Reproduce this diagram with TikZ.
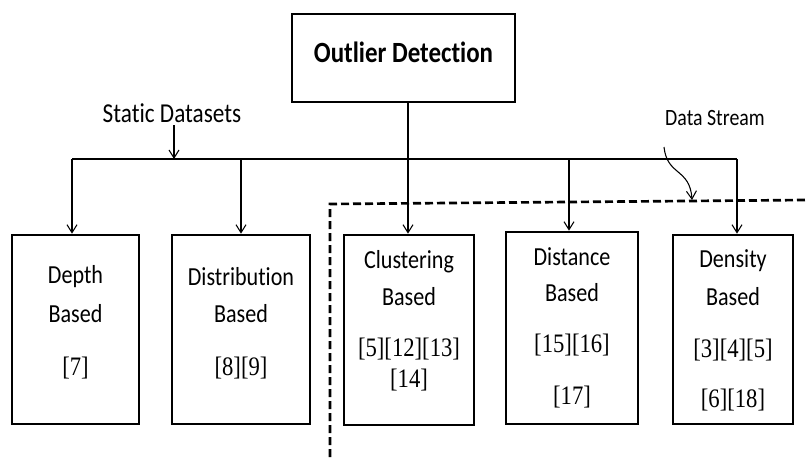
\documentclass[tikz,border=0pt]{standalone}
\usepackage{fontspec}
\setmainfont{Carlito}
\newfontfamily\labelfont[FakeStretch=0.85,RawFeature=-liga]{Carlito}
\newfontfamily\reffont[FakeStretch=0.85]{Liberation Serif}
\usetikzlibrary{arrows.meta}

\begin{document}
\begin{tikzpicture}[x=0.75pt,y=-0.75pt,
  box/.style={draw, line width=2pt, inner sep=0pt},
  lbl/.style={font=\labelfont\fontsize{19.5}{20}\selectfont, inner sep=0pt},
  small/.style={font=\labelfont\fontsize{17.5}{18}\selectfont, inner sep=0pt},
  title/.style={font=\labelfont\bfseries\fontsize{22}{24}\selectfont, inner sep=0pt},
  ref/.style={font=\reffont\fontsize{20}{22}\selectfont, inner sep=0pt},
  conn/.style={line width=0.8pt},
  arr/.style={conn, -{Straight Barb[length=6pt,width=7.5pt]}},
  stream/.style={line width=2pt, dash pattern=on 6pt off 3pt},
]
\useasboundingbox (0,0) rectangle (806,457);

% root box
\node[box, minimum width=167.25pt, minimum height=66pt] (root) at (403.5,58) {};
\node[title] (rootT) at (403.5,52) {Outlier Detection};

% method boxes
\node[box, minimum width=95.25pt, minimum height=141.75pt] (depth) at (75.5,329.5) {};
\node[box, minimum width=103.5pt, minimum height=141.75pt] (distr) at (241,329.5) {};
\node[box, minimum width=97.5pt, minimum height=142.5pt] (clust) at (409,330) {};
\node[box, minimum width=99pt, minimum height=144pt] (dist) at (572,328) {};
\node[box, minimum width=90pt, minimum height=141.75pt] (dens) at (733,329.5) {};

% box texts
\node[lbl] (depthA) at (75.5,277) {Depth};
\node[lbl] (depthB) at (75.5,314) {Based};
\node[ref] (depthC) at (75.5,368) {[7]};

\node[lbl] (distrA) at (241,277) {Distribution};
\node[lbl] (distrB) at (241,314) {Based};
\node[ref] (distrC) at (241,368) {[8][9]};

\node[lbl] (clustA) at (409,262) {Clustering};
\node[lbl] (clustB) at (409,297) {Based};
\node[ref] (clustC) at (409,349) {[5][12][13]};
\node[ref] (clustD) at (409,380) {[14]};

\node[lbl] (distA) at (572,257) {Distance};
\node[lbl] (distB) at (572,293) {Based};
\node[ref] (distC) at (572,345) {[15][16]};
\node[ref] (distD) at (572,397) {[17]};

\node[lbl] (densA) at (733,261) {Density};
\node[lbl] (densB) at (733,297) {Based};
\node[ref] (densC) at (733,350) {[3][4][5]};
\node[ref] (densD) at (733,400) {[6][18]};

% side labels
\node[lbl, font=\labelfont\fontsize{20.5}{22}\selectfont] (static) at (172,113) {Static Datasets};
\node[small] (streamT) at (715,118) {Data Stream};

% bus
\coordinate (busL) at (72,159);
\coordinate (busR) at (737,159);
\coordinate (bus1) at (241,159);
\coordinate (bus3) at (408,159);
\coordinate (bus4) at (569,159);
\coordinate (staticTip) at (174,159);
\coordinate (staticTop) at (174,125);
\draw[conn] (root.south -| bus3) -- (bus3);
\draw[conn] (busL) -- (busR);
\draw[arr] (busL) -- (depth.north -| busL);
\draw[arr] (bus1) -- (distr.north -| bus1);
\draw[arr] (bus3) -- (clust.north -| bus3);
\draw[arr] (bus4) -- (dist.north -| bus4);
\draw[arr] (busR) -- (dens.north -| busR);
\draw[arr] (staticTop) -- (staticTip);

% data stream region
\coordinate (corner) at (330,204);
\coordinate (edgeR) at (806,200);
\coordinate (edgeB) at (330,457);
\draw[stream] (edgeB) -- (corner) -- (edgeR);
\coordinate (wigStart) at (664,147);
\coordinate (wigEnd) at (692,200);
\draw[arr] (wigStart) .. controls (667,176) and (690,168) .. (wigEnd);
\end{tikzpicture}
\end{document}
